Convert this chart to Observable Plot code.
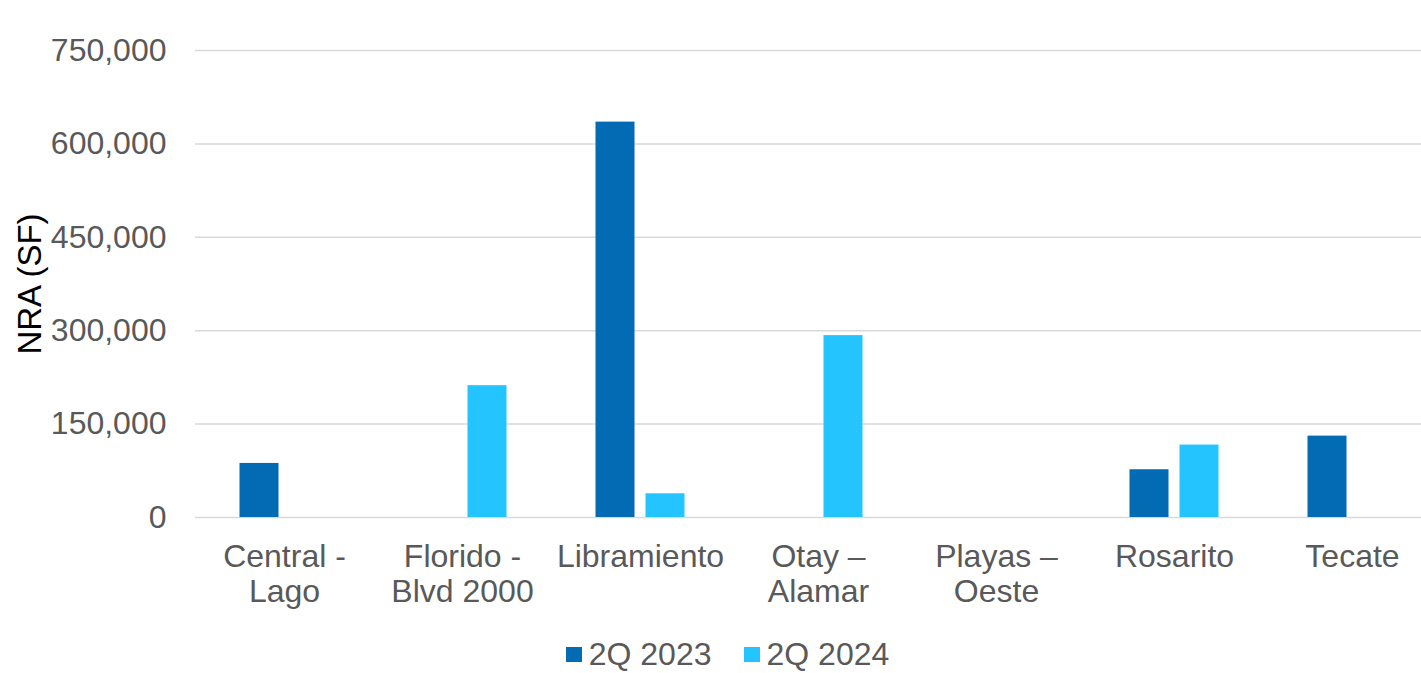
<!DOCTYPE html>
<html>
<head>
<meta charset="utf-8">
<script src="https://cdn.jsdelivr.net/npm/d3@7"></script>
<script src="https://cdn.jsdelivr.net/npm/@observablehq/plot@0.6"></script>
<style>
  html, body { margin: 0; padding: 0; background: #fff; }
  body { width: 1421px; height: 673px; overflow: hidden; font-family: "Liberation Sans", Arial, sans-serif; }
  #legend { display: flex; justify-content: center; align-items: center; font-size: 32px; color: #595959; height: 40px; margin-top: 2px; padding-left: 34px; box-sizing: border-box; }
  .item { display: flex; align-items: center; margin-right: 32px; }
  .item:last-child { margin-right: 0; }
  .sw { width: 16px; height: 15px; display: inline-block; margin-right: 7px; }
</style>
</head>
<body>
<div id="chart"></div>
<div id="legend"></div>
<script>
const categories = ["Central - Lago", "Florido - Blvd 2000", "Libramiento", "Otay – Alamar", "Playas – Oeste", "Rosarito", "Tecate"];
const tickLabels = ["Central -\nLago", "Florido -\nBlvd 2000", "Libramiento", "Otay –\nAlamar", "Playas –\nOeste", "Rosarito", "Tecate"];
const series = ["2Q 2023", "2Q 2024"];
const values2023 = [86800, 0, 635000, 0, 0, 76700, 130700];
const values2024 = [0, 211700, 38100, 292100, 0, 116300, 0];
const yTicks = [0, 150000, 300000, 450000, 600000, 750000];
const colors = ["#036AB4", "#23C4FF"];

const data = [];
categories.forEach((c, i) => {
  data.push({category: c, series: series[0], value: values2023[i]});
  data.push({category: c, series: series[1], value: values2024[i]});
});
const labelOf = new Map(categories.map((c, i) => [c, tickLabels[i]]));

const W = 1421, H = 632, plotTop = 50, plotBottom = 517, plotLeft = 195;
const band = 178;
const chart = Plot.plot({
  width: W,
  height: H,
  marginTop: plotTop,
  marginBottom: H - plotBottom,
  marginLeft: plotLeft,
  marginRight: 0,
  style: {fontFamily: "'Liberation Sans', Arial, sans-serif", fontSize: "32px", color: "#595959", background: "#fff"},
  x: {domain: categories, range: [plotLeft, plotLeft + band * categories.length], padding: 0},
  y: {domain: [0, 750000], ticks: yTicks},
  color: {domain: series, range: colors},
  marks: [
    Plot.gridY(yTicks, {stroke: "#d9d9d9", strokeOpacity: 1, strokeWidth: 1.5}),
    Plot.barY(data.filter(d => d.series === series[0] && d.value > 0), {x: "category", y: "value", fill: "series", insetLeft: 44.5, insetRight: 94.5}),
    Plot.barY(data.filter(d => d.series === series[1] && d.value > 0), {x: "category", y: "value", fill: "series", insetLeft: 94.5, insetRight: 44.5}),
    Plot.axisY(yTicks, {tickSize: 0, tickPadding: 29, tickFormat: d3.format(","), fill: "#595959", fontSize: 32, label: null}),
    Plot.text(["NRA (SF)"], {frameAnchor: "left", textAnchor: "middle", dx: -165, rotate: -90, fill: "#000", fontSize: 33}),
    Plot.axisX({tickSize: 0, tickPadding: 25, tickFormat: d => labelOf.get(d), fill: "#595959", fontSize: 32, lineHeight: 1.08, lineAnchor: "top", label: null})
  ]
});
document.getElementById("chart").appendChild(chart);

const legend = document.getElementById("legend");
series.forEach((s, i) => {
  const item = document.createElement("div");
  item.className = "item";
  const sw = document.createElement("span");
  sw.className = "sw";
  sw.style.background = colors[i];
  item.appendChild(sw);
  item.appendChild(document.createTextNode(s));
  legend.appendChild(item);
});
</script>
</body>
</html>
